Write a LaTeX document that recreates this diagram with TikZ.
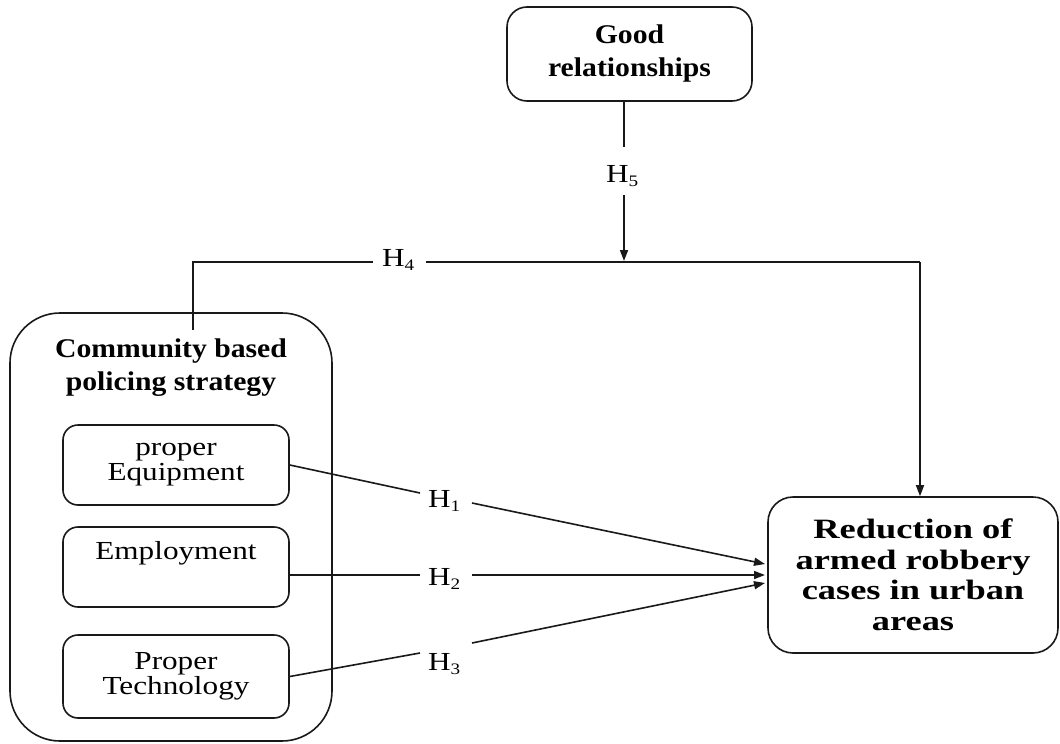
\documentclass[tikz,border=0pt]{standalone}
\usepackage{fontspec}
\setmainfont{Liberation Serif}
\newfontfamily\regf[FakeStretch=1.2]{Liberation Serif}
\newfontfamily\boldf[FakeStretch=1.1]{Liberation Serif}
\newfontfamily\redf[FakeStretch=1.3]{Liberation Serif}
\usetikzlibrary{arrows.meta}
\newcommand{\hyp}[1]{H\raisebox{-4pt}{\fontsize{16}{16}\selectfont #1}}
\begin{document}
\begin{tikzpicture}[x=1pt,y=-1pt,
  box/.style={draw=black!90, line width=1.6pt, rectangle, inner sep=0pt},
  conn/.style={draw=black!90, line width=1.6pt},
  arr/.style={conn, -{Triangle[length=11pt,width=8pt]}},
  reg/.style={font=\regf\fontsize{26}{25}\selectfont, align=center, inner sep=0pt},
  bld/.style={font=\boldf\bfseries\fontsize{27}{33}\selectfont, align=center, inner sep=0pt},
  hlab/.style={font=\regf\fontsize{26}{26}\selectfont, inner sep=0pt, anchor=base west},
]
\useasboundingbox (0,0) rectangle (1060,744);

% boxes
\node[box, rounded corners=20pt, minimum width=245pt, minimum height=94pt, bld] (good) at (629.5,54) {Good\\relationships};
\node[box, rounded corners=50pt, minimum width=322pt, minimum height=428pt] (cbp) at (171,527) {};
\node[bld] (cbpt) at (171,368) {Community based\\policing strategy};
\node[box, rounded corners=15pt, minimum width=226pt, minimum height=80pt, reg] (equip) at (176,465) {proper\\Equipment};
\node[box, rounded corners=15pt, minimum width=226pt, minimum height=80pt] (emp) at (176,567) {};
\node[reg] (empt) at (176,553) {Employment};
\node[box, rounded corners=15pt, minimum width=226pt, minimum height=83pt, reg] (tech) at (176,676.5) {Proper\\Technology};
\node[box, rounded corners=25pt, minimum width=290pt, minimum height=156pt, align=center, inner sep=0pt,
      font=\redf\bfseries\fontsize{28}{30.5}\selectfont] (red) at (913,575) {Reduction of\\armed robbery\\cases in urban\\areas};

% labels
\node[hlab] (h1) at (428,507) {\hyp{1}};
\node[hlab] (h2) at (428,585) {\hyp{2}};
\node[hlab] (h3) at (428,670) {\hyp{3}};
\node[hlab] (h4) at (382,266) {\hyp{4}};
\node[hlab] (h5) at (606,182) {\hyp{5}};

% coordinates
\coordinate (g5a) at (624,147);
\coordinate (g5b) at (624,195);
\coordinate (j5) at (624,261);
\coordinate (c4) at (193,330);
\coordinate (k4) at (193,262);
\coordinate (g4a) at (373,262);
\coordinate (g4b) at (426,262);
\coordinate (k4r) at (920,262);
\coordinate (g1a) at (420,493);
\coordinate (g1b) at (472,503);
\coordinate (t1) at (765,564);
\coordinate (g2a) at (420,575);
\coordinate (g2b) at (472,575);
\coordinate (t2) at (765,575);
\coordinate (g3a) at (420,653);
\coordinate (g3b) at (472,643);
\coordinate (t3) at (765,583);

% connectors
\draw[conn] (good.south -| g5a) -- (g5a);
\draw[arr] (g5b) -- (j5);
\draw[conn] (c4) -- (k4) -- (g4a);
\draw[conn] (g4b) -- (k4r);
\draw[arr] (k4r) -- (red.north -| k4r);
\draw[conn] (equip.east) -- (g1a);
\draw[arr] (g1b) -- (t1);
\draw[conn] (emp.east |- g2a) -- (g2a);
\draw[arr] (g2b) -- (t2);
\draw[conn] (tech.east) -- (g3a);
\draw[arr] (g3b) -- (t3);
\end{tikzpicture}
\end{document}
